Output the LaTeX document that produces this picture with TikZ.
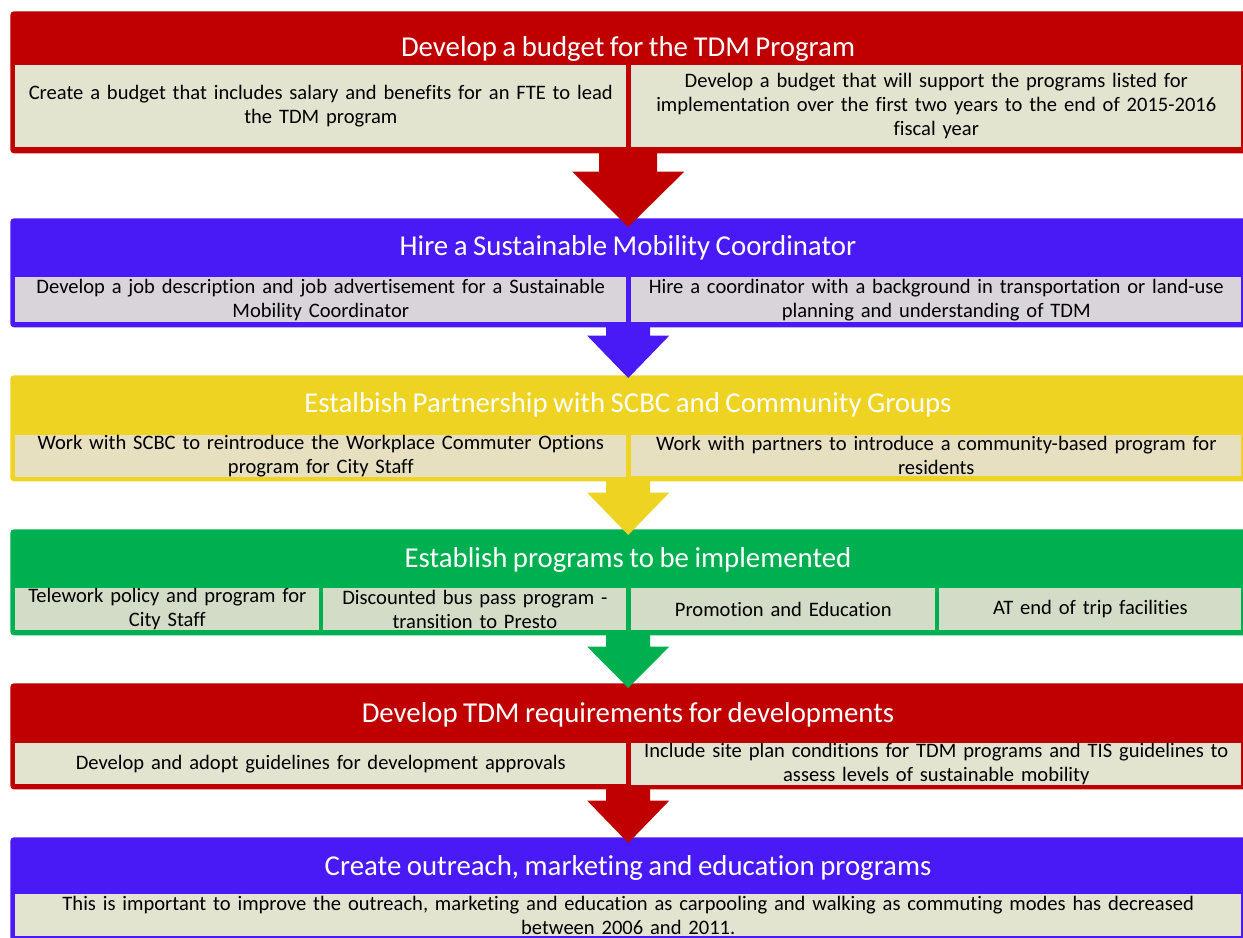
\documentclass[tikz,border=0pt]{standalone}
\usepackage{fontspec}
\setmainfont{Carlito}[Ligatures=NoCommon, WordSpace=0.85]
\usepackage{tikz}
\usetikzlibrary{calc}

\definecolor{bandred}{RGB}{192,0,0}
\definecolor{bandblue}{RGB}{74,26,246}
\definecolor{bandyellow}{RGB}{238,211,34}
\definecolor{bandgreen}{RGB}{0,176,80}
\definecolor{boxbeige}{RGB}{227,228,208}
\definecolor{boxgrey}{RGB}{216,212,218}
\definecolor{boxsand}{RGB}{230,223,192}
\definecolor{boxsage}{RGB}{210,220,198}

\tikzset{
  band/.style={fill=#1, rounded corners=2pt, anchor=north west, inner sep=0pt, minimum width=24.72cm},
  bandtitle/.style={text=white, anchor=base, inner sep=0pt, font=\fontsize{16.4}{19}\selectfont},
  subbox/.style={fill=#1, anchor=north west, inner xsep=0.05cm, inner ysep=0pt, align=center,
    font=\fontsize{11.7}{13.6}\selectfont},
}

% block arrow from one band down into the next:
% colour, from, to, half shaft, half head, head offset, tip offset
\newcommand{\flowarrow}[7]{%
  \fill[#1] ($(#2.south)+(-#4,-3)$) -- ($(#2.south)+(-#4,#6)$) -- ($(#2.south)+(-#5,#6)$)
    -- ($(#3.north)+(0,#7)$) -- ($(#2.south)+(#5,#6)$) -- ($(#2.south)+(#4,#6)$)
    -- ($(#2.south)+(#4,-3)$) -- cycle;}

\begin{document}
\begin{tikzpicture}[x=0.02cm, y=-0.02cm]
\useasboundingbox (0,0) rectangle (1243,937);
\fill[white] (0,0) rectangle (1243,937);
\clip (0,0) rectangle (1243,937);

% budget
\node[band=bandred, minimum height=2.84cm] (budget) at (10,11) {};
\node[bandtitle] (budgetT) at (628,56) {Develop a budget for the TDM Program};
\node[subbox=boxbeige, minimum width=12.22cm, text width=12.12cm, minimum height=1.64cm] (budgetA) at (15,65)
  {Create a budget that includes salary and benefits for an FTE to lead\\the TDM program};
\node[subbox=boxbeige, minimum width=12.2cm, text width=12.1cm, minimum height=1.64cm] (budgetB) at (631,65)
  {Develop a budget that will support the programs listed for\\implementation over the first two years to the end of 2015-2016\\fiscal year};

% coordinator
\node[band=bandblue, minimum height=2.18cm] (hire) at (10,218) {};
\node[bandtitle] (hireT) at (628,255) {Hire a Sustainable Mobility Coordinator};
\node[subbox=boxgrey, minimum width=12.22cm, text width=12.12cm, minimum height=0.9cm] (hireA) at (15,277)
  {Develop a job description and job advertisement for a Sustainable\\Mobility Coordinator};
\node[subbox=boxgrey, minimum width=12.2cm, text width=12.1cm, minimum height=0.9cm] (hireB) at (631,277)
  {Hire a coordinator with a background in transportation or land-use\\planning and understanding of TDM};

% partnership
\node[band=bandyellow, minimum height=2.12cm] (partner) at (10,375) {};
\node[bandtitle] (partnerT) at (628,412) {Estalbish Partnership with SCBC and Community Groups};
\node[subbox=boxsand, minimum width=12.22cm, text width=12.12cm, minimum height=0.82cm] (partnerA) at (15,435)
  {Work with SCBC to reintroduce the Workplace Commuter Options\\program for City Staff};
\node[subbox=boxsand, minimum width=12.2cm, text width=12.1cm, minimum height=0.82cm] (partnerB) at (631,435)
  {Work with partners to introduce a community-based program for\\residents};

% programs
\node[band=bandgreen, minimum height=2.12cm] (programs) at (10,529) {};
\node[bandtitle] (programsT) at (628,567) {Establish programs to be implemented};
\node[subbox=boxsage, minimum width=6.08cm, text width=5.98cm, minimum height=0.84cm] (programsA) at (15,588)
  {Telework policy and program for\\City Staff};
\node[subbox=boxsage, minimum width=6.06cm, text width=5.96cm, minimum height=0.84cm] (programsB) at (323,588)
  {Discounted bus pass program -\\transition to Presto};
\node[subbox=boxsage, minimum width=6.08cm, text width=5.98cm, minimum height=0.84cm] (programsC) at (631,588)
  {Promotion and Education};
\node[subbox=boxsage, minimum width=6.04cm, text width=5.94cm, minimum height=0.84cm] (programsD) at (939,588)
  {AT end of trip facilities};

% requirements
\node[band=bandred, minimum height=2.12cm] (require) at (10,683) {};
\node[bandtitle] (requireT) at (628,722) {Develop TDM requirements for developments};
\node[subbox=boxbeige, minimum width=12.22cm, text width=12.12cm, minimum height=0.82cm] (requireA) at (15,743)
  {Develop and adopt guidelines for development approvals};
\node[subbox=boxbeige, minimum width=12.2cm, text width=12.1cm, minimum height=0.82cm] (requireB) at (631,743)
  {Include site plan conditions for TDM programs and TIS guidelines to\\assess levels of sustainable mobility};

% outreach
\node[band=bandblue, minimum height=2.2cm] (outreach) at (10,837) {};
\node[bandtitle] (outreachT) at (628,875) {Create outreach, marketing and education programs};
\node[subbox=boxbeige, minimum width=24.52cm, text width=24.42cm, minimum height=0.84cm] (outreachA) at (15,894)
  {This is important to improve the outreach, marketing and education as carpooling and walking as commuting modes has decreased\\between 2006 and 2011.};

\flowarrow{bandred}{budget}{hire}{29}{56}{18}{9}
\flowarrow{bandblue}{hire}{partner}{22}{41}{8}{3}
\flowarrow{bandyellow}{partner}{programs}{22}{41}{11}{6}
\flowarrow{bandgreen}{programs}{require}{22}{41}{11}{5}
\flowarrow{bandred}{require}{outreach}{22}{41}{11}{6}
\end{tikzpicture}
\end{document}
